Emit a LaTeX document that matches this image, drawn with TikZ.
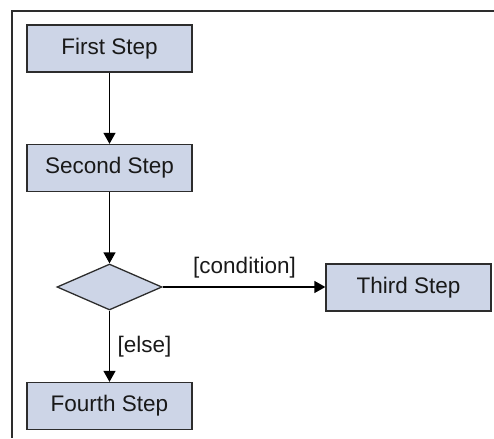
\documentclass[tikz,border=0pt]{standalone}
\usepackage{fontspec}
\setmainfont{Liberation Sans}
\usetikzlibrary{shapes.geometric,arrows.meta}
\definecolor{boxfill}{RGB}{205,213,231}
\definecolor{edgecol}{RGB}{45,45,45}
\definecolor{txtcol}{RGB}{25,25,25}
\begin{document}
\begin{tikzpicture}[x=1pt,y=-1pt,
  stepbox/.style={draw=edgecol, fill=boxfill, line width=1.3pt, minimum width=165pt, minimum height=47pt, inner sep=0pt, text=txtcol, font=\fontsize{22.5}{27}\selectfont},
  decision/.style={diamond, draw=edgecol, fill=boxfill, line width=1.3pt, minimum width=105pt, minimum height=46pt, inner sep=0pt},
  flow/.style={-{Triangle[length=11pt,width=12pt]}, line width=1.3pt, draw=black},
  lbl/.style={text=txtcol, inner sep=0pt, font=\fontsize{22.5}{27}\selectfont}]
\useasboundingbox (0,0) rectangle (494,438);
\draw[line width=1.6pt, edgecol] (494,11) -- (12,11) -- (12,438);
\node[stepbox] (first) at (109.5,48.5) {First Step};
\node[stepbox] (second) at (109.5,168) {Second Step};
\node[decision] (dec) at (109.5,287) {};
\node[stepbox] (third) at (408.5,287.5) {Third Step};
\node[stepbox] (fourth) at (109.5,406) {Fourth Step};
\draw[flow] (first.south) -- (second.north);
\draw[flow] (second.south) -- (dec.north);
\draw[flow] (dec.east) -- (dec.east -| third.west);
\draw[flow] (dec.south) -- (fourth.north);
\node[lbl] (condlbl) at (244.5,268) {[condition]};
\node[lbl] (elselbl) at (144.5,347) {[else]};
\end{tikzpicture}
\end{document}
